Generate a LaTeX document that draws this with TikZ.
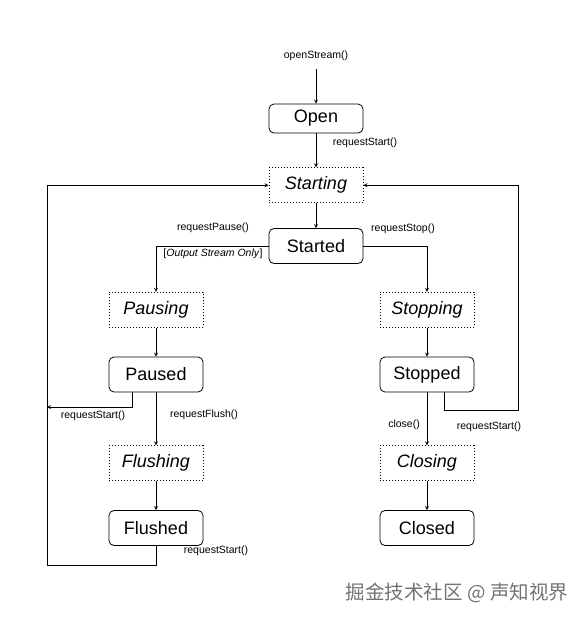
\documentclass[tikz,border=0pt]{standalone}
\usepackage{fontspec}
\setmainfont{Liberation Sans}
\newfontfamily\cjkfont{Noto Sans CJK SC}
\usetikzlibrary{positioning, arrows}
\tikzset{
    state_node/.style={rectangle, rounded corners=5pt, minimum width=94pt, minimum height=35pt, inner sep=0pt, text centered, align=center, draw=black, line width=0.8pt, font=\fontsize{18}{20}\selectfont},
    trans_node/.style={rectangle, minimum width=94pt, minimum height=35pt, inner sep=0pt, text centered, align=center, draw=black, dash pattern=on 0.8pt off 2.2pt, line width=0.7pt, font=\fontsize{18}{20}\selectfont\itshape},
    arrow/.style={line width=0.8pt, ->, >=stealth},
    call_text/.style={inner sep=1pt, font=\fontsize{10.5}{12}\selectfont},
}

\begin{document}
\begin{tikzpicture}[x=1pt, y=-1pt]
      \useasboundingbox (0,0) rectangle (588,619);
      %%%%%%%%%%%%%%%%
      % MAIN COLUMN %
      %%%%%%%%%%%%%%%%
      \node (open) [state_node, minimum height=29pt] at (316,118.5) {Open};
      \node (starting) [trans_node, below=34pt of open] {Starting};
      \node (started) [state_node, below=25pt of starting] {Started};

      %%%%%%%%%%%%%%%%
      % PAUSE BRANCH %
      %%%%%%%%%%%%%%%%
      \node (pausing) [trans_node, below=28pt of started, xshift=-160pt] {Pausing};
      \node (paused) [state_node, below=29pt of pausing] {Paused};
      \node (flushing) [trans_node, below=53pt of paused] {Flushing};
      \node (flushed) [state_node, below=29pt of flushing] {Flushed};

      %%%%%%%%%%%%%%%
      % STOP BRANCH %
      %%%%%%%%%%%%%%%
      \node (stopping) [trans_node, below=28pt of started, xshift=111pt] {Stopping};
      \node (stopped) [state_node, below=29pt of stopping] {Stopped};
      \node (closing) [trans_node, below=53pt of stopped] {Closing};
      \node (closed) [state_node, below=29pt of closing] {Closed};

      % rails and free ends
      \coordinate (open_in) at (316,69);
      \coordinate (left_rail) at (47,565);
      \coordinate (paused_exit) at (47,407);
      \coordinate (right_rail) at (518,410);

      % calls
      \node (open_call) [call_text] at (316,56) {openStream()};
      \node (start_call) [call_text] at (365,143) {requestStart()};
      \node (pause_call) [call_text] at (213,228) {requestPause()};
      \node (output_only) [call_text] at (213,254) {[\textit{Output Stream Only}]};
      \node (stop_call) [call_text] at (403,229) {requestStop()};
      \node (paused_start_call) [call_text] at (93,416) {requestStart()};
      \node (flush_call) [call_text] at (204,415) {requestFlush()};
      \node (flushed_start_call) [call_text] at (216,551) {requestStart()};
      \node (close_call) [call_text] at (404,425) {close()};
      \node (stopped_start_call) [call_text] at (489,427) {requestStart()};

      \draw [arrow] (open_in) -- (open);
      \draw [arrow] (open) -- (starting);
      \draw [arrow] (starting) -- (started);
      \draw [arrow] (started.west) -| (pausing.north);
      \draw [arrow] (started.east) -| (stopping.north);
      \draw [arrow] (pausing) -- (paused);
      \draw [arrow] (paused) -- (flushing);
      \draw [arrow] (flushing) -- (flushed);
      \draw [arrow] (stopping) -- (stopped);
      \draw [arrow] (stopped) -- (closing);
      \draw [arrow] (closing) -- (closed);
      \draw [arrow] (flushed.south) |- (left_rail) |- (starting.west);
      \draw [arrow] ([xshift=-24pt]paused.south) |- (paused_exit);
      \draw [arrow] ([xshift=17pt]stopped.south) |- (right_rail) |- (starting.east);

      \node (watermark) [text=black!55, font=\cjkfont\fontsize{19.5}{22}\selectfont] at (457,593) {掘金技术社区 @ 声知视界};
   \end{tikzpicture}
\end{document}
